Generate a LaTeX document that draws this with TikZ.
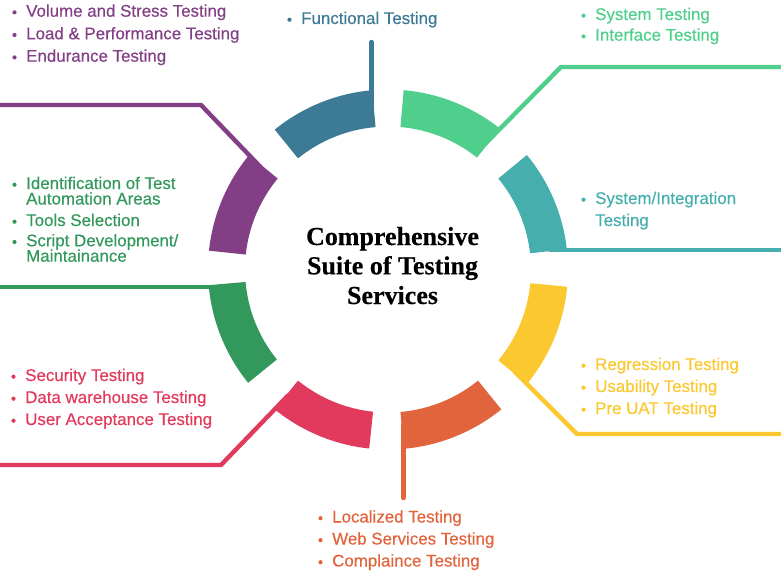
\documentclass[tikz,border=0pt]{standalone}
\usepackage{fontspec}
\setmainfont{Liberation Sans}[FakeBold=0.35]
\newfontfamily\titlefont{Liberation Serif}[FakeBold=0.3]
\definecolor{cteal}{HTML}{46AFAE}
\definecolor{clgreen}{HTML}{4FCF8B}
\definecolor{cblue}{HTML}{3D7A96}
\definecolor{cpurple}{HTML}{833F86}
\definecolor{cdgreen}{HTML}{32985C}
\definecolor{cred}{HTML}{E23A5C}
\definecolor{corange}{HTML}{E2643C}
\definecolor{cyellow}{HTML}{FCC830}
\newcommand\itemgroup[4]{%
  \foreach \yy/\txt/\bb [count=\i] in {#4}{%
    \node[itm,text=#2] (#1\i) at (#3,\yy) {\txt};
    \ifnum\bb=1 \fill[#2] ([xshift=-11.5pt,yshift=4.3pt]#1\i.base west) circle[radius=2.1pt];\fi
  }}
\begin{document}
\begin{tikzpicture}[x=1pt,y=-1pt,
  conn/.style={line width=4.4pt,line cap=round,line join=miter},
  itm/.style={inner sep=0pt,anchor=base west,font=\fontsize{16.9}{19}\selectfont},
  ttl/.style={inner sep=0pt,anchor=base,font=\titlefont\bfseries\fontsize{26}{29.5}\selectfont}]
\useasboundingbox (0,0) rectangle (781,586);
\fill[white] (0,0) rectangle (781,586);
\coordinate (C) at (388,269.5);
% ring segments (math angles, counter-clockwise)
\foreach \a/\b/\col in {6.5/39.5/cteal, 51.5/85/clgreen, 95/129/cblue, 140.5/174/cpurple,
                        185/219/cdgreen, 231/264/cred, 275/309/corange, 320.5/354.5/cyellow}{
  \fill[\col,shift={(C)}] (-\a:180) arc[start angle=-\a,end angle=-\b,radius=180]
     -- (-\b:143) arc[start angle=-\b,end angle=-\a,radius=143] -- cycle;
}
% connector coordinates
\coordinate (pur-s) at (261,167.5); \coordinate (pur-b) at (201,105); \coordinate (pur-e) at (-6,105);
\coordinate (blu-s) at (371.5,125); \coordinate (blu-e) at (371.5,42);
\coordinate (lgr-s) at (485,144); \coordinate (lgr-b) at (561,67); \coordinate (lgr-e) at (787,67);
\coordinate (tea-s) at (550,250); \coordinate (tea-e) at (787,250);
\coordinate (yel-s) at (514.5,371.5); \coordinate (yel-b) at (577,434); \coordinate (yel-e) at (787,434);
\coordinate (ora-s) at (403.3,425); \coordinate (ora-e) at (403.3,498);
\coordinate (red-s) at (288,395.5); \coordinate (red-b) at (221,465); \coordinate (red-e) at (-6,465);
\coordinate (dgr-s) at (215,287); \coordinate (dgr-e) at (-6,287);
\draw[conn,cpurple] (pur-s) -- (pur-b) -- (pur-e);
\draw[conn,cblue] (blu-s) -- (blu-e);
\draw[conn,clgreen] (lgr-s) -- (lgr-b) -- (lgr-e);
\draw[conn,cteal] (tea-s) -- (tea-e);
\draw[conn,cyellow] (yel-s) -- (yel-b) -- (yel-e);
\draw[conn,corange] (ora-s) -- (ora-e);
\draw[conn,cred] (red-s) -- (red-b) -- (red-e);
\draw[conn,cdgreen] (dgr-s) -- (dgr-e);
% title
\node[ttl] (t1) at (392.5,245) {Comprehensive};
\node[ttl] (t2) at (392.5,274.3) {Suite of Testing};
\node[ttl] (t3) at (392.5,304) {Services};
% labels
\itemgroup{pur}{cpurple}{26}{16.7/Volume and Stress Testing/1, 39.3/Load \& Performance Testing/1, 61.7/Endurance Testing/1}
\itemgroup{blu}{cblue}{301}{24/Functional Testing/1}
\itemgroup{lgr}{clgreen}{595}{20/System Testing/1, 40.7/Interface Testing/1}
\itemgroup{tea}{cteal}{595}{{204}/{System/Integration}/1, 226/Testing/0}
\itemgroup{yel}{cyellow}{595}{370/Regression Testing/1, 392/Usability Testing/1, 414/Pre UAT Testing/1}
\itemgroup{ora}{corange}{332}{522.5/Localized Testing/1, 544.5/Web Services Testing/1, 566.5/Complaince Testing/1}
\itemgroup{red}{cred}{25}{381/Security Testing/1, 403/Data warehouse Testing/1, 425/User Acceptance Testing/1}
\itemgroup{dgr}{cdgreen}{26}{189/Identification of Test/1, 204.5/Automation Areas/0, 226/Tools Selection/1, 246.3/{Script Development/}/1, 261.7/Maintainance/0}
\end{tikzpicture}
\end{document}
